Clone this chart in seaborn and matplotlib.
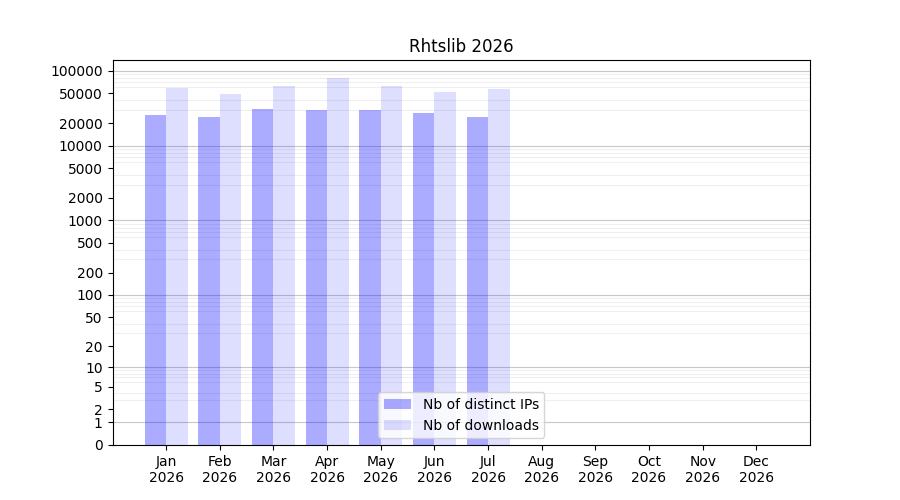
import matplotlib
matplotlib.use("Agg")
import matplotlib.pyplot as plt
import matplotlib.ticker as mticker
import seaborn as sns
import pandas as pd
import numpy as np

months = ["Jan\n2026", "Feb\n2026", "Mar\n2026", "Apr\n2026", "May\n2026", "Jun\n2026",
          "Jul\n2026", "Aug\n2026", "Sep\n2026", "Oct\n2026", "Nov\n2026", "Dec\n2026"]
distinct_ips = [25500, 23900, 30700, 29700, 29700, 27100, 23900]
downloads = [58600, 48700, 62400, 79800, 62400, 51800, 56800]
y_ticks = [0, 1, 2, 5, 10, 20, 50, 100, 200, 500, 1000, 2000, 5000, 10000, 20000, 50000, 100000]

rows = []
for m, v in zip(months, distinct_ips):
    rows.append({"month": m, "value": v, "series": "Nb of distinct IPs"})
for m, v in zip(months, downloads):
    rows.append({"month": m, "value": v, "series": "Nb of downloads"})
df = pd.DataFrame(rows)

fig, ax = plt.subplots(figsize=(9, 5), dpi=100)

sns.barplot(data=df, x="month", y="value", hue="series", order=months,
            palette=["blue", "blue"], saturation=1, width=0.8, ax=ax)

# semi-transparent bars so the grid shows through, like the original
for cont, a in zip(ax.containers, [0.33, 0.13]):
    for p in cont:
        p.set_alpha(a)

fwd = lambda y: np.log10(1 + np.clip(y, 0, None))
inv = lambda y: 10 ** y - 1
ax.set_yscale("function", functions=(fwd, inv))
ax.set_ylim(0, 139000)
ax.set_xlim(-1, 12)

ax.yaxis.set_major_locator(mticker.FixedLocator(y_ticks))
ax.yaxis.set_major_formatter(mticker.FuncFormatter(lambda v, p: f"{int(round(v))}"))
minor = [k * 10 ** n for n in range(0, 6) for k in range(2, 10)]
ax.yaxis.set_minor_locator(mticker.FixedLocator(minor))
ax.tick_params(axis="y", which="minor", length=0)

ax.set_axisbelow(True)
ax.grid(False)
ax.grid(True, axis="y", which="minor", color="#efefef", linewidth=0.8)
for n in range(0, 6):
    ax.axhline(10 ** n, color="#c8c8c8", linewidth=0.8, zorder=0.5)

ax.set_xlabel("")
ax.set_ylabel("")
ax.set_title("Rhtslib 2026")
ax.legend(handles=list(ax.containers), labels=["Nb of distinct IPs", "Nb of downloads"],
          loc="lower center")

plt.savefig("out.png")
